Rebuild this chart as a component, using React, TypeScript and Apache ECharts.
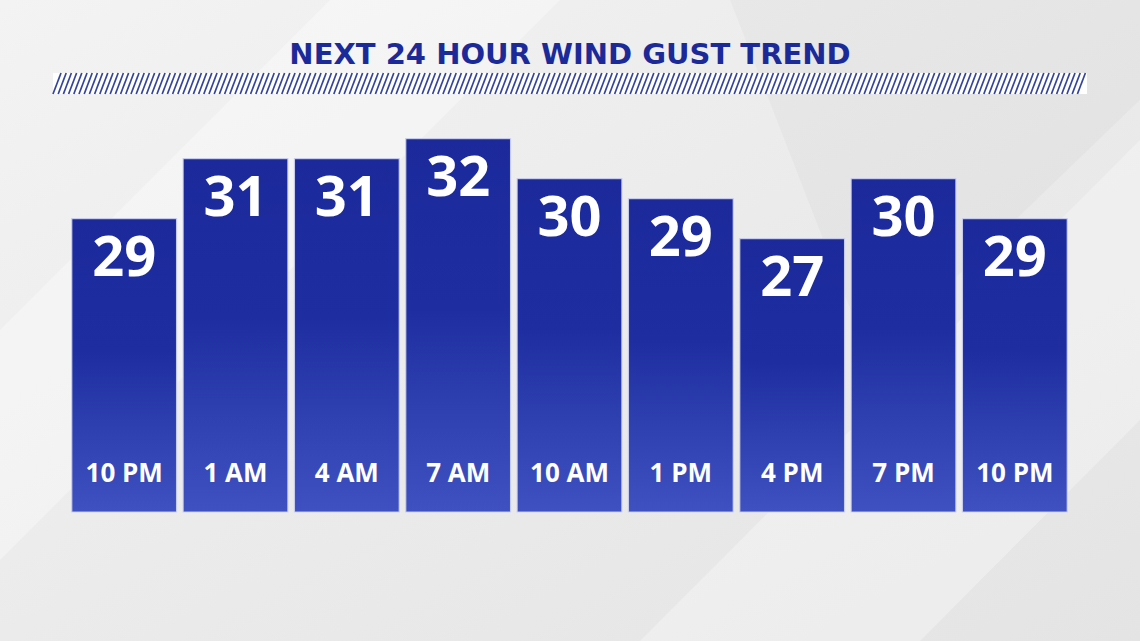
import React, { useEffect, useRef } from "react";
import * as echarts from "echarts";

// Times shown at the foot of each bar
const times = ["10 PM", "1 AM", "4 AM", "7 AM", "10 AM", "1 PM", "4 PM", "7 PM", "10 PM"];
// Wind gust values printed on the bars (mph)
const gusts = [29, 31, 31, 32, 30, 29, 27, 30, 29];
// Bar levels as drawn in the graphic (the two 10 PM bars are drawn one step lower than printed)
const barLevels = [28, 31, 31, 32, 30, 29, 27, 30, 28];
const titleText = "NEXT 24 HOUR WIND GUST TREND";

const W = 1140;
const H = 641;

function hatchLines() {
  const x0 = 53, x1 = 1087, y0 = 73, y1 = 94;
  const slant = 8;
  const pitch = 5.2;
  const lines: any[] = [];
  for (let x = x0; x + slant <= x1 + 0.1; x += pitch) {
    lines.push({
      type: "line",
      shape: { x1: x, y1: y1, x2: x + slant, y2: y0 },
      style: { stroke: "#34449e", lineWidth: 1.7 },
      silent: true,
    });
  }
  return lines;
}

export default function App() {
  const ref = useRef<HTMLDivElement>(null);
  useEffect(() => {
    if (!ref.current) return;
    const chart = echarts.init(ref.current, null, { renderer: "svg" });
    const option: any = {
      animation: false,
      backgroundColor: {
        type: "linear",
        x: 0, y: 0, x2: 1, y2: 1,
        colorStops: [
          { offset: 0, color: "#f3f3f3" },
          { offset: 0.5, color: "#ebebeb" },
          { offset: 1, color: "#e4e4e4" },
        ],
      },
      graphic: [
        {
          type: "polygon",
          z: -10,
          silent: true,
          shape: { points: [[0, 330], [330, 0], [560, 0], [0, 560]] },
          style: { fill: "rgba(255,255,255,0.35)" },
        },
        {
          type: "polygon",
          z: -10,
          silent: true,
          shape: { points: [[640, 641], [1140, 140], [1140, 420], [920, 641]] },
          style: { fill: "rgba(255,255,255,0.3)" },
        },
        {
          type: "polygon",
          z: -10,
          silent: true,
          shape: { points: [[730, 0], [1140, 0], [1140, 100], [870, 360]] },
          style: { fill: "rgba(0,0,0,0.025)" },
        },
        {
          type: "rect",
          z: -5,
          silent: true,
          shape: { x: 53, y: 73, width: 1034, height: 21 },
          style: { fill: "#ffffff" },
        },
        {
          type: "group",
          z: -4,
          children: hatchLines(),
        },
        {
          type: "text",
          left: "center",
          top: 39,
          style: {
            text: titleText,
            fill: "#1c2a99",
            font: "bold 29px 'DejaVu Sans', sans-serif",
          },
        },
      ],
      grid: { left: 68.5, right: W - 1070.5, top: 138, bottom: H - 512, containLabel: false },
      xAxis: {
        type: "category",
        data: times,
        z: 10,
        axisLine: { show: false },
        axisTick: { show: false },
        axisLabel: {
          inside: true,
          margin: 40,
          verticalAlign: "middle",
          color: "#ffffff",
          fontFamily: "'Open Sans', sans-serif",
          fontWeight: "bold",
          fontSize: 26,
          interval: 0,
        },
      },
      yAxis: {
        type: "value",
        min: 13.3,
        max: 32,
        show: false,
        splitLine: { show: false },
      },
      series: [
        {
          type: "bar",
          data: barLevels,
          barWidth: 106,
          itemStyle: {
            color: {
              type: "linear",
              x: 0, y: 0, x2: 0, y2: 1,
              colorStops: [
                { offset: 0, color: "#1b299b" },
                { offset: 0.45, color: "#1e2ea0" },
                { offset: 1, color: "#3f51c1" },
              ],
            },
            borderColor: "rgba(205,210,245,0.9)",
            borderWidth: 1.2,
          },
          label: {
            show: true,
            position: ["50%", 36],
            align: "center",
            verticalAlign: "middle",
            color: "#ffffff",
            fontFamily: "'Open Sans', sans-serif",
            fontWeight: "bold",
            fontSize: 56,
            formatter: (p: any) => String(gusts[p.dataIndex]),
          },
        },
      ],
    };
    chart.setOption(option);
    return () => chart.dispose();
  }, []);
  return (
    <div
      ref={ref}
      style={{ position: "fixed", left: 0, top: 0, width: W, height: H }}
    />
  );
}
